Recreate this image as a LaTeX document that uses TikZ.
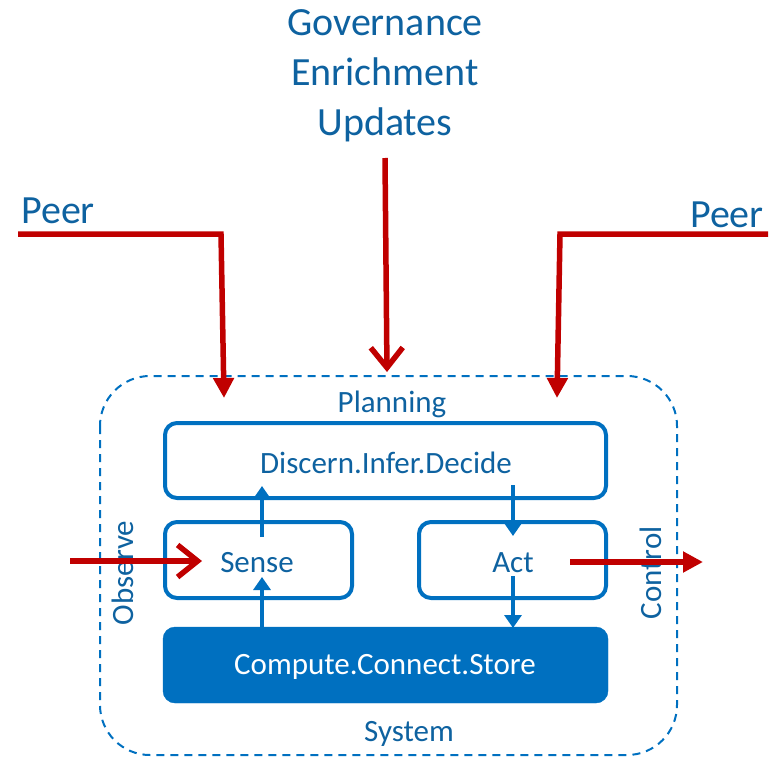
\documentclass[tikz,border=0pt]{standalone}
\usepackage{fontspec}
\setmainfont{Carlito}
\usetikzlibrary{arrows.meta}
\definecolor{boxblue}{RGB}{0,112,192}
\definecolor{txtblue}{RGB}{14,98,160}
\definecolor{flowred}{RGB}{192,0,0}
\tikzset{
  panel/.style={draw=boxblue, line width=4pt, rounded corners=12pt, inner sep=0pt},
  solidpanel/.style={fill=boxblue, draw=boxblue, rounded corners=12pt, inner sep=0pt},
  lbl/.style={text=txtblue, font=\fontsize{31}{34}\selectfont, inner sep=0pt},
  biglbl/.style={text=txtblue, font=\fontsize{40}{50}\selectfont, inner sep=0pt, align=center},
  bluearrow/.style={draw=boxblue, line width=4pt, -{Triangle[length=13pt,width=17pt]}},
  redline/.style={draw=flowred, line width=5.5pt},
  redtri/.style={redline, -{Triangle[length=20pt,width=20pt]}},
  redchev/.style={redline, -{Straight Barb[length=20pt,width=32pt,line width=5.5pt]}},
}
\begin{document}
\begin{tikzpicture}[x=1pt,y=-1pt]
\useasboundingbox (0,0) rectangle (782,760);

% system boundary
\draw[boxblue, line width=2pt, dash pattern=on 8pt off 6pt, rounded corners=50pt]
  (100,376) rectangle (677,755);

% inner blocks
\node[panel, minimum width=441pt, minimum height=75pt] (dec) at (385.5,460.5) {};
\node[lbl] at (386,463) {Discern.Infer.Decide};
\node[panel, minimum width=187pt, minimum height=76pt] (sense) at (258.5,560) {};
\node[lbl] at (257,563) {Sense};
\node[panel, minimum width=187pt, minimum height=76pt] (act) at (512.5,560) {};
\node[lbl] at (513,563) {Act};
\node[solidpanel, minimum width=445pt, minimum height=76pt] (csc) at (385.5,665) {};
\node[lbl, text=white] at (385,667) {Compute.Connect.Store};

% labels
\node[lbl] (plan) at (392,404) {Planning};
\node[lbl] (sys) at (409,734) {System};
\node[lbl, rotate=90] (obs) at (123,573) {Observe};
\node[lbl, rotate=90] (ctl) at (651,573) {Control};
\node[biglbl] (gov) at (385,76) {Governance\\Enrichment\\Updates};
\node[biglbl, anchor=west] (peerl) at (21,211) {Peer};
\node[biglbl, anchor=east] (peerr) at (764,215) {Peer};

% internal flows
\coordinate (s1) at (262,537);
\coordinate (s2) at (262,486);
\draw[bluearrow] (s1) -- (s2);
\coordinate (c1) at (262,627);
\coordinate (c2) at (262,577);
\draw[bluearrow] (c1) -- (c2);
\coordinate (d1) at (513,485);
\coordinate (d2) at (513,536);
\draw[bluearrow] (d1) -- (d2);
\coordinate (a1) at (513,576);
\coordinate (a2) at (513,628);
\draw[bluearrow] (a1) -- (a2);

% external flows
\coordinate (pl0) at (18,234);
\coordinate (pl1) at (221,234);
\coordinate (pl2) at (224,398);
\draw[redtri] (pl0) -- (pl1) -- (pl2);
\coordinate (pr0) at (768,234);
\coordinate (pr1) at (560,234);
\coordinate (pr2) at (557,398);
\draw[redtri] (pr0) -- (pr1) -- (pr2);
\coordinate (g1) at (385,158);
\coordinate (g2) at (387,372);
\draw[redchev] (g1) -- (g2);
\coordinate (o1) at (70,561);
\coordinate (o2) at (202,561);
\draw[redchev] (o1) -- (o2);
\coordinate (k1) at (570,562);
\coordinate (k2) at (703,562);
\draw[redtri] (k1) -- (k2);
\end{tikzpicture}
\end{document}
